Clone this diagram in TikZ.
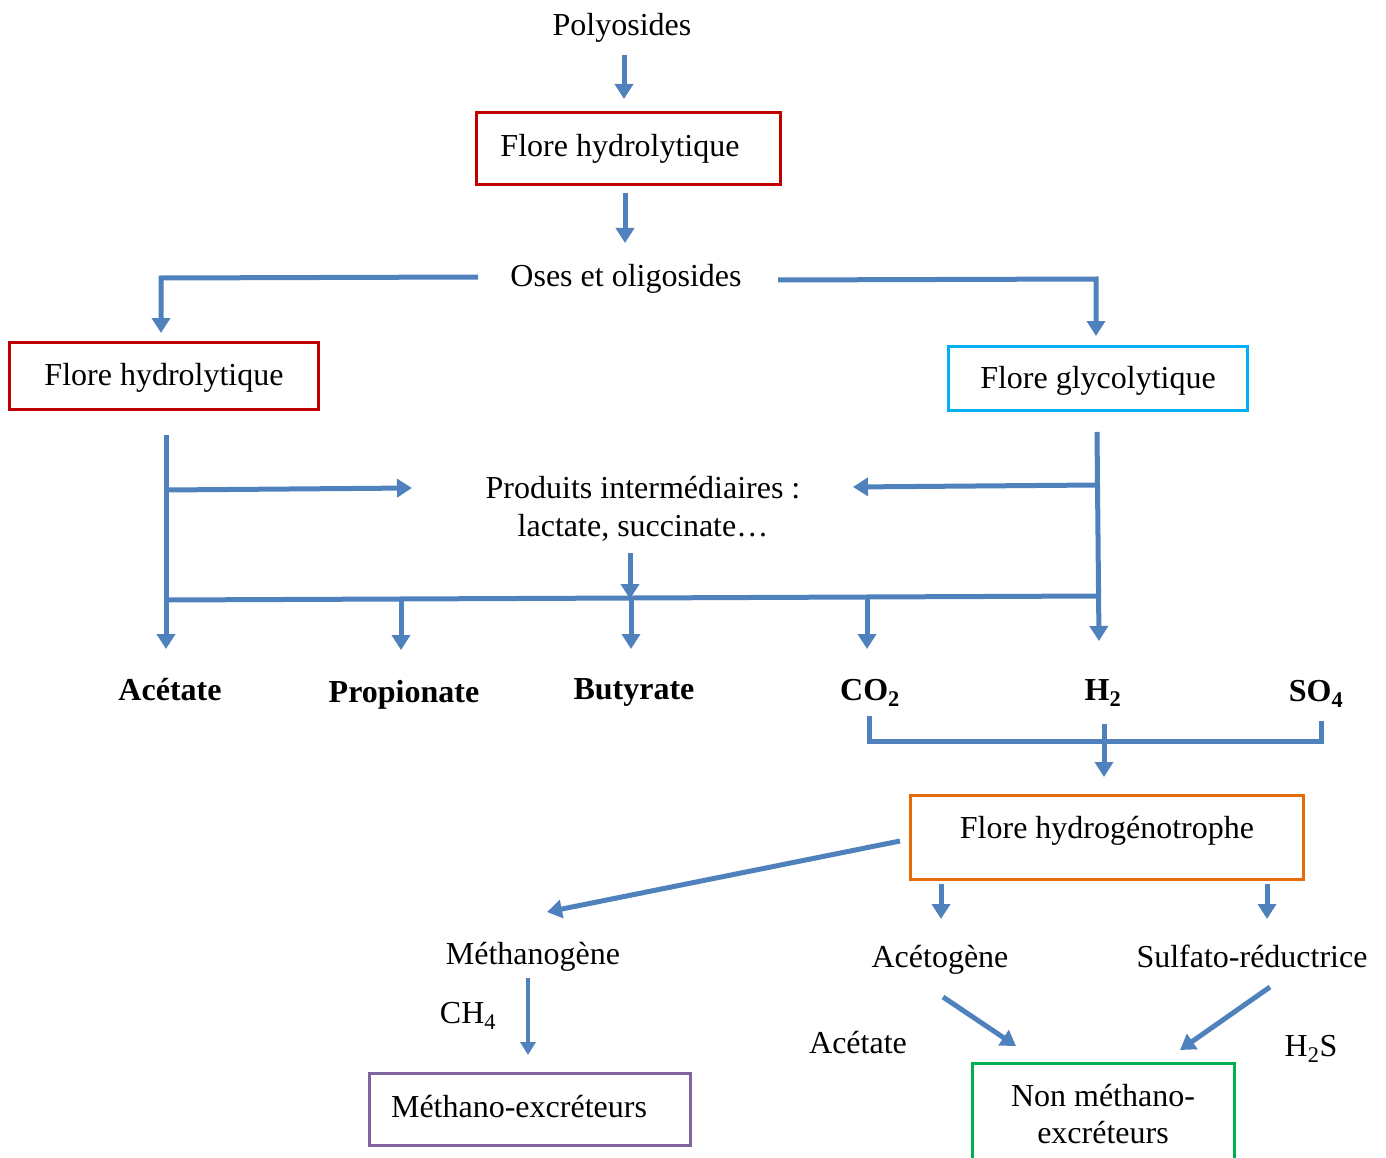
\documentclass[tikz,border=0pt]{standalone}
\usepackage{fontspec}
\setmainfont{Liberation Serif}
\usetikzlibrary{arrows.meta}
\definecolor{arrblue}{RGB}{79,129,189}
\definecolor{bred}{RGB}{192,0,0}
\definecolor{bcyan}{RGB}{0,176,240}
\definecolor{borange}{RGB}{228,108,10}
\definecolor{bpurple}{RGB}{128,100,162}
\definecolor{bgreen}{RGB}{0,176,80}
\tikzset{
  ln/.style={draw=arrblue, line width=5pt},
  arr/.style={ln, -{Triangle[width=18pt,length=15pt]}},
  frame/.style={draw=#1, line width=3pt, rectangle, inner sep=0pt},
  txt/.style={inner sep=0pt, anchor=base, font=\fontsize{32}{38}\selectfont},
  btxt/.style={txt, font=\fontsize{32}{38}\selectfont\bfseries},
}
\begin{document}
\begin{tikzpicture}[x=1pt,y=-1pt]
\useasboundingbox (0,0) rectangle (1386,1158);
% boxes
\node[frame=bred, minimum width=304pt, minimum height=72pt] (fh1) at (628,149) {};
\node[frame=bred, minimum width=309pt, minimum height=67pt] (fh2) at (163.5,375.5) {};
\node[frame=bcyan, minimum width=299pt, minimum height=64pt] (fg) at (1097.5,378) {};
\node[frame=borange, minimum width=393pt, minimum height=84pt] (fhg) at (1106.5,837) {};
\node[frame=bpurple, minimum width=321pt, minimum height=72pt] (me) at (529.5,1109) {};
\node[frame=bgreen, minimum width=262pt, minimum height=110pt] (nme) at (1103,1118) {};
% texts
\node[txt] (poly) at (622,36) {Polyosides};
\node[txt] (fh1t) at (620,157) {Flore hydrolytique};
\node[txt] (oses) at (626,287) {Oses et oligosides};
\node[txt] (fh2t) at (164,385) {Flore hydrolytique};
\node[txt] (fgt) at (1098,388) {Flore glycolytique};
\node[txt] (prod1) at (643,498) {Produits intermédiaires :};
\node[txt] (prod2) at (643,536) {lactate, succinate…};
\node[btxt] (ac) at (170,700) {Acétate};
\node[btxt] (pr) at (404,702) {Propionate};
\node[btxt] (bu) at (634,699) {Butyrate};
\node[btxt] (co2) at (870,700) {CO\textsubscript{2}};
\node[btxt] (h2) at (1103,700) {H\textsubscript{2}};
\node[btxt] (so4) at (1316,701) {SO\textsubscript{4}};
\node[txt] (fhgt) at (1107,838) {Flore hydrogénotrophe};
\node[txt] (meth) at (533,964) {Méthanogène};
\node[txt] (aceto) at (940,967) {Acétogène};
\node[txt] (sulf) at (1252,967) {Sulfato-réductrice};
\node[txt] (ch4) at (468,1023) {CH\textsubscript{4}};
\node[txt] (acl) at (858,1053) {Acétate};
\node[txt] (h2s) at (1311,1056) {H\textsubscript{2}S};
\node[txt] (met) at (519,1117) {Méthano-excréteurs};
\node[txt] (nm1) at (1103,1106) {Non méthano-};
\node[txt] (nm2) at (1103,1143) {excréteurs};
% coordinates
\coordinate (a1s) at (624,55);   \coordinate (a1e) at (624,99);
\coordinate (a2s) at (625,193);  \coordinate (a2e) at (625,243);
\coordinate (lS) at (478,277);   \coordinate (lC) at (161,278);  \coordinate (lE) at (161,333);
\coordinate (rS) at (778,280);   \coordinate (rC) at (1096,279); \coordinate (rE) at (1096,336);
\coordinate (lvS) at (166,435);  \coordinate (lvE) at (166,649);
\coordinate (lbS) at (166,490);  \coordinate (lbE) at (412,488);
\coordinate (rvS) at (1097,432); \coordinate (rvE) at (1099,641);
\coordinate (rbS) at (1097,485); \coordinate (rbE) at (853,487);
\coordinate (hS) at (166,600);   \coordinate (hE) at (1099,596);
\coordinate (pdS) at (630,553);  \coordinate (pdE) at (630,599);
\coordinate (buS) at (631,599);  \coordinate (buE) at (631,649);
\coordinate (prS) at (401,599);  \coordinate (prE) at (401,650);
\coordinate (coS) at (867,598);  \coordinate (coE) at (867,649);
\coordinate (bL) at (869,716);   \coordinate (bLc) at (869,741);
\coordinate (bRc) at (1321,741); \coordinate (bR) at (1321,721);
\coordinate (bMS) at (1104,724); \coordinate (bME) at (1104,777);
\coordinate (mS) at (900,841);   \coordinate (mE) at (547,912);
\coordinate (acS) at (941,884);  \coordinate (acE) at (941,919);
\coordinate (suS) at (1267,884); \coordinate (suE) at (1267,919);
\coordinate (chS) at (528,978);  \coordinate (chE) at (528,1055);
\coordinate (agS) at (943,997);  \coordinate (agE) at (1016,1046);
\coordinate (srS) at (1270,987); \coordinate (srE) at (1180,1050);
% connectors
\draw[arr] (a1s) -- (a1e);
\draw[arr] (a2s) -- (a2e);
\draw[arr] (lS) -- (lC) -- (lE);
\draw[arr] (rS) -- (rC) -- (rE);
\draw[arr] (lvS) -- (lvE);
\draw[arr] (lbS) -- (lbE);
\draw[arr] (rvS) -- (rvE);
\draw[arr] (rbS) -- (rbE);
\draw[ln] (hS) -- (hE);
\draw[arr] (pdS) -- (pdE);
\draw[arr] (buS) -- (buE);
\draw[arr] (prS) -- (prE);
\draw[arr] (coS) -- (coE);
\draw[ln] (bL) -- (bLc) -- (bRc) -- (bR);
\draw[arr] (bMS) -- (bME);
\draw[arr] (mS) -- (mE);
\draw[arr] (acS) -- (acE);
\draw[arr] (suS) -- (suE);
\draw[ln, line width=4pt, -{Triangle[width=15pt,length=13pt]}] (chS) -- (chE);
\draw[arr] (agS) -- (agE);
\draw[arr] (srS) -- (srE);
\end{tikzpicture}
\end{document}
